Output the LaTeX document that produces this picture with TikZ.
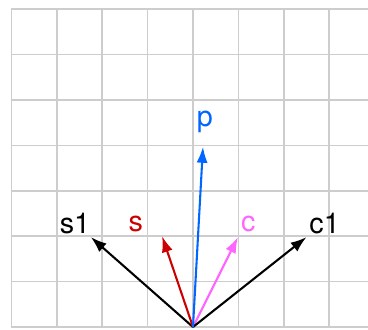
\documentclass[tikz,border=0pt]{standalone}
\usepackage{fontspec}
\setmainfont{TeX Gyre Heros}
\usetikzlibrary{arrows.meta}
\definecolor{gridgray}{RGB}{205,205,205}
\definecolor{pblue}{RGB}{0,102,255}
\definecolor{sred}{RGB}{204,0,0}
\definecolor{cmag}{RGB}{255,102,255}
\begin{document}
\begin{tikzpicture}[
  vec/.style={line width=1.3pt, -{Latex[length=10pt,width=7pt]}},
  lbl/.style={inner sep=0pt, font=\fontsize{18}{21}\selectfont}
]
\useasboundingbox (-4.251,-0.044) rectangle (3.855,7.203);
\begin{scope}
\clip (-4.251,-0.044) rectangle (3.855,7.203);
\foreach \x in {-4,...,3} \draw[gridgray, line width=0.9pt] (\x,0) -- (\x,7);
\foreach \y in {0,...,7} \draw[gridgray, line width=0.9pt] (-4,\y) -- (3.9,\y);
\end{scope}
\coordinate (O) at (0,0);
\coordinate (ts1) at (-2.25,1.98);
\coordinate (ts) at (-0.68,2.0);
\coordinate (tp) at (0.22,3.97);
\coordinate (tc) at (0.99,1.98);
\coordinate (tc1) at (2.5,1.98);
\draw[vec, black] (O) -- (ts1);
\draw[vec, sred] (O) -- (ts);
\draw[vec, cmag] (O) -- (tc);
\draw[vec, black] (O) -- (tc1);
\draw[vec, pblue] (O) -- (tp);
\node[lbl, black] (ls1) at (-2.6,2.28) {s1};
\node[lbl, sred] (ls) at (-1.26,2.28) {s};
\node[lbl, cmag] (lc) at (1.22,2.28) {c};
\node[lbl, black] (lc1) at (2.9,2.28) {c1};
\node[lbl, pblue] (lp) at (0.26,4.51) {p};
\end{tikzpicture}
\end{document}
